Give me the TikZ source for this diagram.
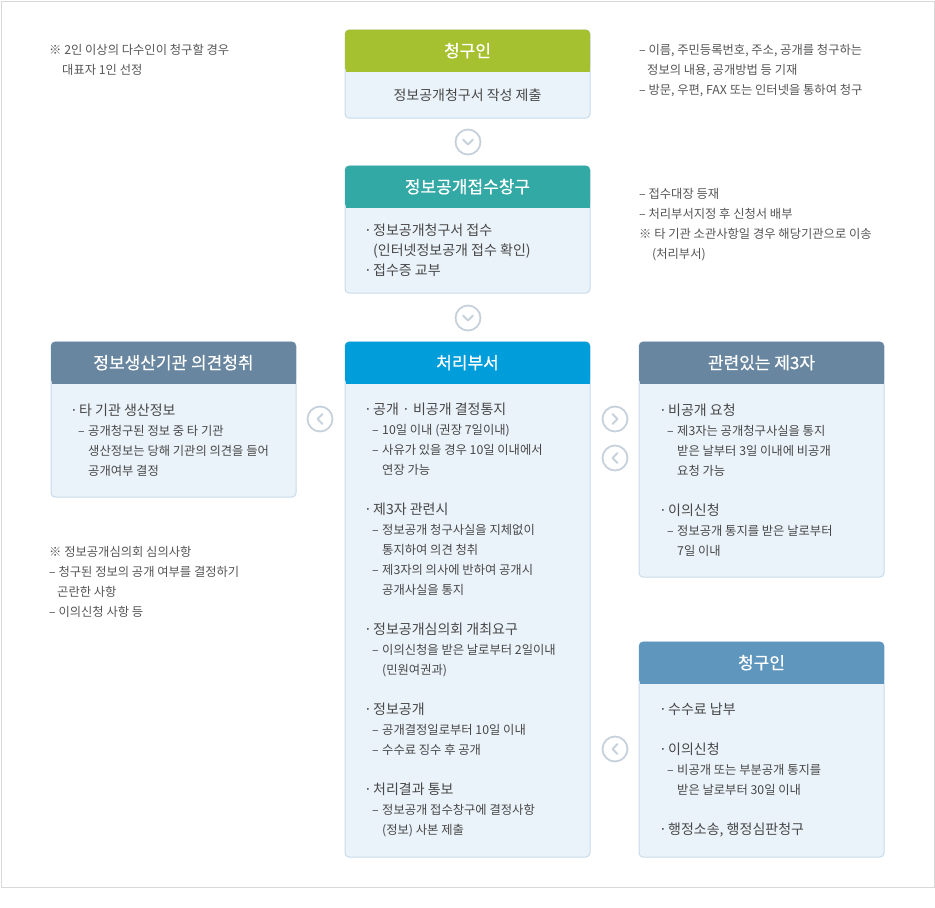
\documentclass[tikz,border=0pt]{standalone}
\usepackage{fontspec}
\setmainfont{Noto Sans CJK KR}
\newfontfamily\hdfont[FakeBold=0.6]{Noto Sans CJK KR}
\usepackage{tikz}
\usetikzlibrary{positioning}
\definecolor{hdrgreen}{HTML}{A5C12F}
\definecolor{hdrteal}{HTML}{33A9A5}
\definecolor{hdrblue}{HTML}{009DDB}
\definecolor{hdrslate}{HTML}{6886A0}
\definecolor{hdrsteel}{HTML}{5F96BD}
\definecolor{bodyfill}{HTML}{EBF3FA}
\definecolor{bodyedge}{HTML}{C8DAEA}
\definecolor{circedge}{HTML}{C6D1DC}
\definecolor{txtgray}{HTML}{474747}
\definecolor{notegray}{HTML}{555555}
\definecolor{framegray}{HTML}{D8D8D8}

\newcommand{\bitem}[1]{{\fontsize{14}{20}\selectfont\makebox[9pt][l]{·}#1}}
\newcommand{\bcont}[1]{{\fontsize{14}{20}\selectfont\hspace*{9pt}#1}}
\newcommand{\ditem}[1]{{\fontsize{12.3}{20}\selectfont\hspace*{8pt}\makebox[10pt][l]{–}#1}}
\newcommand{\dcont}[1]{{\fontsize{12.3}{20}\selectfont\hspace*{18pt}#1}}

\begin{document}
\begin{tikzpicture}[x=1pt, y=-1pt,
    hdr/.style={rectangle, rounded corners=4pt, minimum width=245pt, minimum height=42pt, text=white, font=\hdfont\fontsize{17}{20}\selectfont},
    box/.style={rectangle, rounded corners=4pt, draw=bodyedge, line width=1pt, fill=bodyfill, minimum width=245pt},
    txt/.style={align=left, text=txtgray, inner sep=0pt, font=\fontsize{12.3}{20}\selectfont},
    note/.style={align=left, text=notegray, inner sep=0pt, anchor=north west, font=\fontsize{12.3}{20}\selectfont},
    circ/.style={circle, draw=circedge, line width=1.8pt, fill=white, minimum size=25pt, inner sep=0pt},
    chev/.style={draw=circedge, line width=1.8pt, line cap=round, line join=round}
]
    \useasboundingbox (0,0) rectangle (935,908);
    \node[draw=framegray, line width=1pt, minimum width=933pt, minimum height=886pt, anchor=north west, inner sep=0pt] (frame) at (0.5,0.5) {};

    % notes
    \node[note] (n1) at (49,44) {※ 2인 이상의 다수인이 청구할 경우\\\hspace*{13pt}대표자 1인 선정};
    \node[note] (n2) at (639,44) {– 이름, 주민등록번호, 주소, 공개를 청구하는\\\hspace*{8pt}정보의 내용, 공개방법 등 기재\\– 방문, 우편, FAX 또는 인터넷을 통하여 청구};
    \node[note] (n3) at (639,188) {– 접수대장 등재\\– 처리부서지정 후 신청서 배부\\※ 타 기관 소관사항일 경우 해당기관으로 이송\\\hspace*{13pt}(처리부서)};
    \node[note] (n4) at (49,546) {※ 정보공개심의회 심의사항\\– 청구된 정보의 공개 여부를 결정하기\\\hspace*{8pt}곤란한 사항\\– 이의신청 사항 등};

    % claimant
    \node[box, minimum height=88pt] (req) at (467.5,74) {};
    \fill[hdrgreen] ([shift={(1,20)}]req.north west) rectangle ([shift={(-1,42)}]req.north east);
    \node[hdr, fill=hdrgreen, below=0pt of req.north] (reqh) {청구인};
    \node[txt, font=\fontsize{14}{20}\selectfont] (reqt) at (467.5,95) {정보공개청구서 작성 제출};

    \node[circ] (d1) at (468,142) {};
    \draw[chev] ([shift={(-5,-2.5)}]d1.center) -- ++(5,5) -- ++(5,-5);

    % reception desk
    \node[box, minimum height=127pt] (recv) at (467.5,229.5) {};
    \fill[hdrteal] ([shift={(1,20)}]recv.north west) rectangle ([shift={(-1,42)}]recv.north east);
    \node[hdr, fill=hdrteal, below=0pt of recv.north] (recvh) {정보공개접수창구};
    \node[txt, anchor=west] (recvt) at (364,250.5) {\bitem{정보공개청구서 접수}\\\bcont{(인터넷정보공개 접수 확인)}\\\bitem{접수증 교부}};

    \node[circ] (d2) at (468,318) {};
    \draw[chev] ([shift={(-5,-2.5)}]d2.center) -- ++(5,5) -- ++(5,-5);

    % processing department
    \node[box, minimum height=515pt] (proc) at (467.5,599.5) {};
    \fill[hdrblue] ([shift={(1,20)}]proc.north west) rectangle ([shift={(-1,42)}]proc.north east);
    \node[hdr, fill=hdrblue, below=0pt of proc.north] (proch) {처리부서};
    \node[txt, anchor=west] (proct) at (364,620) {\bitem{공개 · 비공개 결정통지}\\
        \ditem{10일 이내 (권장 7일이내)}\\
        \ditem{사유가 있을 경우 10일 이내에서}\\
        \dcont{연장 가능}\\[20pt]
        \bitem{제3자 관련시}\\
        \ditem{정보공개 청구사실을 지체없이}\\
        \dcont{통지하여 의견 청취}\\
        \ditem{제3자의 의사에 반하여 공개시}\\
        \dcont{공개사실을 통지}\\[20pt]
        \bitem{정보공개심의회 개최요구}\\
        \ditem{이의신청을 받은 날로부터 2일이내}\\
        \dcont{(민원여권과)}\\[20pt]
        \bitem{정보공개}\\
        \ditem{공개결정일로부터 10일 이내}\\
        \ditem{수수료 징수 후 공개}\\[20pt]
        \bitem{처리결과 통보}\\
        \ditem{정보공개 접수창구에 결정사항}\\
        \dcont{(정보) 사본 제출}};

    % producing agency
    \node[box, minimum height=155pt] (prod) at (173.5,419.5) {};
    \fill[hdrslate] ([shift={(1,20)}]prod.north west) rectangle ([shift={(-1,42)}]prod.north east);
    \node[hdr, fill=hdrslate, below=0pt of prod.north] (prodh) {정보생산기관 의견청취};
    \node[txt, anchor=west] (prodt) at (70,440) {\bitem{타 기관 생산정보}\\
        \ditem{공개청구된 정보 중 타 기관}\\
        \dcont{생산정보는 당해 기관의 의견을 들어}\\
        \dcont{공개여부 결정}};

    % third party
    \node[box, minimum height=235pt] (third) at (761.5,459.5) {};
    \fill[hdrslate] ([shift={(1,20)}]third.north west) rectangle ([shift={(-1,42)}]third.north east);
    \node[hdr, fill=hdrslate, below=0pt of third.north] (thirdh) {관련있는 제3자};
    \node[txt, anchor=west] (thirdt) at (659,480) {\bitem{비공개 요청}\\
        \ditem{제3자는 공개청구사실을 통지}\\
        \dcont{받은 날부터 3일 이내에 비공개}\\
        \dcont{요청 가능}\\[20pt]
        \bitem{이의신청}\\
        \ditem{정보공개 통지를 받은 날로부터}\\
        \dcont{7일 이내}};

    % claimant again
    \node[box, minimum height=215pt] (appl) at (761.5,749.5) {};
    \fill[hdrsteel] ([shift={(1,20)}]appl.north west) rectangle ([shift={(-1,42)}]appl.north east);
    \node[hdr, fill=hdrsteel, below=0pt of appl.north] (applh) {청구인};
    \node[txt, anchor=west] (applt) at (659,770) {\bitem{수수료 납부}\\[20pt]
        \bitem{이의신청}\\
        \ditem{비공개 또는 부분공개 통지를}\\
        \dcont{받은 날로부터 30일 이내}\\[20pt]
        \bitem{행정소송, 행정심판청구}};

    % side arrows
    \node[circ] (l1) at (320,419) {};
    \draw[chev] ([shift={(2.5,-5)}]l1.center) -- ++(-5,5) -- ++(5,5);
    \node[circ] (r1) at (615,419) {};
    \draw[chev] ([shift={(-2.5,-5)}]r1.center) -- ++(5,5) -- ++(-5,5);
    \node[circ] (l2) at (615,458) {};
    \draw[chev] ([shift={(2.5,-5)}]l2.center) -- ++(-5,5) -- ++(5,5);
    \node[circ] (l3) at (615,749) {};
    \draw[chev] ([shift={(2.5,-5)}]l3.center) -- ++(-5,5) -- ++(5,5);
\end{tikzpicture}
\end{document}
